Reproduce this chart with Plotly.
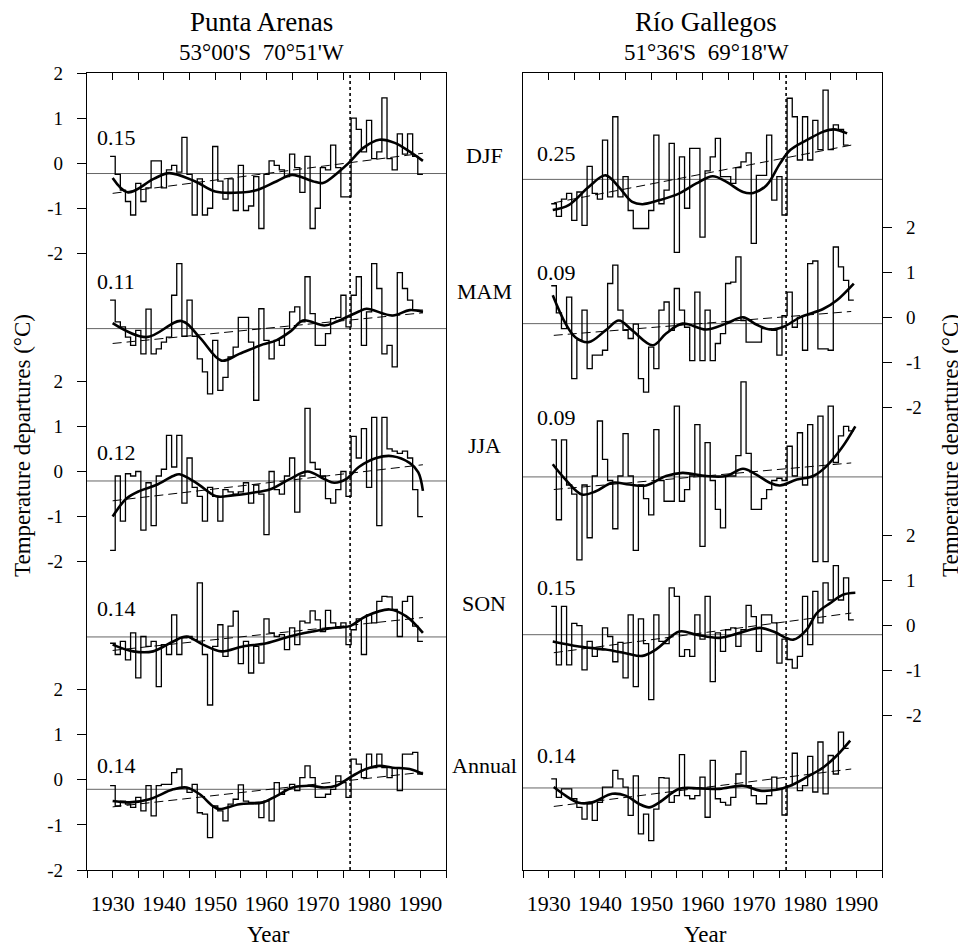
import plotly.graph_objects as go

W, H = 966, 947
PAGE_OFFSET = 8            # default body margin of the written html page
FONT = "Liberation Serif"
X_MIN, X_MAX = 1925, 1995
BLOCK_STEP = 3.42          # vertical separation between stacked seasons (deg C)
SHIFT_YEAR = 1976.3        # dotted vertical line
SEASONS = ["DJF", "MAM", "JJA", "SON", "Annual"]

# ---------------- Punta Arenas (53°00'S 70°51'W) ----------------
PA_START = 1930
pa_djf = [0.15, -0.25, -0.6, -0.85, -1.15, -0.45, -0.85, -0.55, 0.05, 0.05,
          -0.55, -0.15, -0.05, -0.2, 0.57, -0.25, -1.15, -0.35, -1.15, -1.0,
          0.37, -0.4, -0.8, -0.35, -1.05, -0.05, -1.05, -0.95, -0.3, -1.45,
          -0.25, 0.05, -0.05, -0.15, -0.3, 0.2, -0.1, -0.65, 0.15, -1.45,
          -1.0, -0.1, -0.15, 0.4, -0.1, -0.75, -0.75, 1.0, 0.75, 0.25,
          0.95, 0.1, 0.25, 1.45, 0.1, -0.15, 0.65, 0.2, 0.65, 0.15, -0.25]
pa_mam = [0.38, -0.1, -0.21, -0.44, -0.62, -0.29, -0.81, 0.18, -0.81, -0.7,
          -0.55, -0.44, 0.49, 1.19, -0.42, 0.38, -0.42, -0.92, -1.21, -1.7,
          -0.51, -1.62, -1.33, -0.88, -0.66, 0.0, 0.0, -0.55, -1.84, 0.19,
          -0.51, -0.92, -0.51, -0.62, -0.25, 0.12, 0.23, -0.1, 0.9, 0.08,
          -0.62, -0.62, -0.36, -0.03, 0.0, 0.49, -0.21, 0.49, 0.9, -0.62,
          0.12, 1.19, 0.64, -0.81, -0.62, -1.1, 0.99, 0.64, 0.38, 0.16, 0.16]
pa_jja = [-1.75, -0.1, -1.1, -0.05, -0.1, 0.0, -1.3, -0.25, -1.2, -0.1,
          0.05, 0.8, 0.1, 0.8, -0.7, 0.3, -0.35, -0.55, -1.1, -0.35,
          -0.55, -1.1, -0.4, -0.45, -0.5, -0.45, -0.25, -0.7, -0.3, -0.5,
          -1.4, 0.0, -0.4, -0.5, -0.1, 0.3, -0.9, -0.1, 1.4, 0.2,
          0.05, -0.1, -0.6, -0.7, -0.4, 0.0, -0.55, 0.78, 0.3, 0.95,
          -0.35, 1.2, -1.2, 1.2, 0.5, 0.45, 0.4, 0.45, 0.3, -0.4, -1.0]
pa_son = [-0.39, -0.64, -0.35, -0.76, -0.16, -1.16, -0.24, -0.46, -0.35, -1.35,
          -0.42, -0.64, 0.24, -0.64, -0.27, -0.24, -0.31, 0.95, -0.64, -1.76,
          -0.46, 0.02, -0.68, -0.01, 0.32, -0.84, -0.35, -1.05, -0.46, -0.83,
          0.15, -0.16, -0.24, -0.2, -0.53, -0.05, -0.42, 0.1, 0.06, 0.33,
          0.13, -0.13, 0.34, 0.06, -0.05, 0.06, -0.42, -0.09, 0.15, -0.64,
          0.24, 0.06, 0.54, 0.65, 0.64, 0.36, -0.24, 0.54, 0.65, -0.01, -0.35]
pa_ann = [-0.13, -0.58, -0.47, -0.54, -0.61, -0.39, -0.69, -0.13, -0.8, -0.13,
          -0.1, -0.1, 0.16, 0.24, -0.17, -0.28, -0.1, -0.73, -0.76, -1.28,
          -0.58, -0.69, -0.91, -0.54, -0.43, -0.11, -0.47, -0.5, -0.5, -0.84,
          -0.47, -0.91, -0.06, -0.32, -0.21, -0.1, -0.24, 0.05, 0.31, 0.05,
          -0.39, -0.39, -0.32, -0.21, 0.09, -0.06, -0.39, 0.46, 0.35, 0.05,
          0.57, 0.27, 0.57, 0.27, 0.05, 0.27, -0.24, 0.57, 0.57, 0.61, 0.13]

# smoothed curves (read at selected years)
pa_djf_sm_x = [1930, 1933, 1938, 1941, 1946, 1950, 1955, 1958, 1962, 1965, 1969, 1971, 1974, 1976, 1979, 1982, 1985, 1988, 1990.5]
pa_djf_sm_y = [-0.33, -0.65, -0.35, -0.22, -0.4, -0.63, -0.65, -0.6, -0.4, -0.26, -0.4, -0.44, -0.2, 0.0, 0.35, 0.52, 0.45, 0.25, 0.05]
pa_mam_sm_x = [1930, 1936.6, 1943.4, 1947, 1951.2, 1954.7, 1959.3, 1961.9, 1964.8, 1967.1, 1971.3, 1973.6, 1978, 1979.5, 1984.6, 1987.9, 1990.5]
pa_mam_sm_y = [-0.13, -0.44, -0.08, -0.45, -0.96, -0.81, -0.6, -0.51, -0.3, -0.07, -0.18, -0.1, 0.13, 0.19, 0.04, 0.16, 0.12]
pa_jja_sm_x = [1930, 1932.7, 1935.3, 1938.5, 1941.8, 1943, 1946.3, 1950.2, 1953.4, 1957.3, 1960.6, 1964.5, 1968, 1971.3, 1973.2, 1975.5, 1978, 1981.4, 1984.6, 1987.9, 1989.6, 1990.5]
pa_jja_sm_y = [-1.0, -0.6, -0.43, -0.3, -0.1, -0.06, -0.25, -0.55, -0.53, -0.47, -0.4, -0.17, 0.0, -0.17, -0.25, -0.17, 0.1, 0.3, 0.34, 0.19, -0.02, -0.43]
pa_son_sm_x = [1930, 1934, 1937.9, 1941.8, 1944.4, 1947.6, 1951.2, 1955.4, 1960, 1964.5, 1969, 1972.9, 1976.2, 1979.4, 1984, 1987.2, 1990.5]
pa_son_sm_y = [-0.42, -0.57, -0.57, -0.35, -0.24, -0.42, -0.57, -0.46, -0.39, -0.24, -0.13, -0.05, -0.01, 0.21, 0.36, 0.21, -0.16]
pa_ann_sm_x = [1930, 1933.3, 1937.2, 1941.8, 1944.4, 1947, 1949.5, 1950.8, 1954.7, 1959.3, 1961.9, 1965.1, 1968.4, 1971.3, 1973.6, 1976.8, 1979.4, 1982, 1984.6, 1987.9, 1990.5]
pa_ann_sm_y = [-0.47, -0.5, -0.43, -0.21, -0.17, -0.32, -0.58, -0.65, -0.54, -0.5, -0.36, -0.17, -0.13, -0.17, -0.13, 0.09, 0.24, 0.31, 0.27, 0.24, 0.13]

pa_trend_x = [1930, 1990.5]
pa_trend_start = [-0.67, -0.58, -0.65, -0.55, -0.6]
pa_trend_end = [0.22, 0.1, 0.15, 0.18, 0.17]
pa_base = [-0.23, -0.25, -0.21, -0.25, -0.21]
pa_rates = ["0.15", "0.11", "0.12", "0.14", "0.14"]

# ---------------- Río Gallegos (51°36'S 69°18'W) ----------------
RG_START = 1931
rg_djf = [-0.9, -1.18, -0.8, -0.67, -1.27, -0.64, -1.38, -0.07, -0.67, -0.8,
          0.51, -0.75, 1.03, -0.75, -0.3, -1.05, -1.45, -1.45, -1.45, -1.05,
          0.62, -0.9, -0.6, 0.44, -1.98, 0.14, -1.0, 0.33, 0.33, -1.64,
          -0.17, 0.14, 0.55, -0.3, -0.3, -0.45, -0.1, 0.03, 0.23, -1.78,
          -0.27, -0.27, 0.62, -0.82, -0.3, -1.15, 1.44, 1.03, 0.07, 1.03,
          0.07, 0.95, 0.3, 1.62, 0.3, 0.85, 0.75, 0.4]
rg_mam = [0.7, 0.1, -0.25, 0.45, -1.36, -0.5, 0.16, -1.14, -0.84, -0.84,
          -0.73, 0.75, 1.16, 0.16, -0.29, -0.47, -0.15, -1.36, -1.66, -0.66,
          -1.14, 0.16, 0.34, -0.29, 0.64, 0.16, -0.22, -0.96, 0.56, -0.96,
          0.16, -0.96, -0.58, -0.36, 0.75, 0.78, 1.34, -0.07, -0.55, -0.55,
          -0.55, -0.25, -0.25, -0.29, -0.84, 0.04, 0.56, -0.22, 0.0, -0.73,
          1.19, 1.25, -0.7, -0.7, -0.73, 1.56, 1.12, 0.82, 0.38]
rg_jja = [0.7, -1.07, 0.7, -0.3, -0.5, -1.96, -0.3, -1.47, -0.1, 1.12,
          0.27, -0.2, -1.27, -0.1, 0.84, -0.1, -1.75, -0.3, -0.6, -0.96,
          0.93, -0.2, -0.66, -0.66, 1.45, -0.66, -0.4, -0.1, 1.04, -1.66,
          0.64, -0.2, -0.84, -1.25, -0.1, -0.1, 0.35, 1.99, 0.4, -0.84,
          -0.84, -0.6, -0.4, -0.2, -0.15, -0.2, 0.56, -0.1, 0.86, -0.3,
          1.04, -2.0, 1.23, -2.0, 1.45, 0.2, 0.79, 1.0, 0.9]
rg_son = [0.43, -0.87, 0.43, -0.87, 0.05, 0.0, -0.98, -0.35, -0.68, -0.53,
          -0.05, -0.24, -0.8, -0.37, -1.16, 0.24, -1.35, 0.15, -0.4, -1.64,
          0.24, -0.35, -0.4, 0.84, 0.65, -0.68, -0.53, -0.68, 0.24, -0.3,
          0.65, -1.24, -0.16, -0.57, -0.09, -0.05, -0.46, -0.09, 0.45, 0.2,
          -0.57, 0.24, 0.24, 0.06, -0.83, -0.3, -0.75, -0.94, -0.68, 0.65,
          -0.42, 0.76, 0.06, 0.95, 0.57, 1.33, 0.57, 1.06, 0.13]
rg_ann = [0.02, -0.39, -0.2, -0.2, -0.42, -0.61, -0.87, -0.53, -0.9, -0.5,
          -0.16, -0.16, 0.21, 0.02, -0.16, -0.79, 0.09, -1.2, -0.76, -1.35,
          -0.65, 0.05, 0.04, -0.5, -0.35, 0.56, -0.35, -0.42, -0.35, 0.06,
          -0.83, 0.43, -0.42, -0.5, -0.56, -0.39, 0.13, 0.63, -0.13, -0.35,
          -0.53, -0.53, -0.35, 0.06, -0.2, -0.78, -0.13, 0.59, -0.24, -0.13,
          0.52, -0.27, 0.84, -0.31, 0.54, 0.13, 1.06, 0.7]

rg_djf_sm_x = [1930.8, 1933.9, 1937.8, 1941.1, 1943.7, 1946.3, 1948.3, 1951.6, 1955.5, 1958.8, 1962, 1964.6, 1967.9, 1969.9, 1972.5, 1975.1, 1977.1, 1980.3, 1983.6, 1985.6, 1988.2]
rg_djf_sm_y = [-1.04, -0.93, -0.53, -0.27, -0.53, -0.86, -0.91, -0.82, -0.67, -0.45, -0.29, -0.41, -0.64, -0.66, -0.49, -0.01, 0.29, 0.51, 0.7, 0.75, 0.66]
rg_mam_sm_x = [1930.8, 1933.3, 1935.2, 1937.8, 1941.1, 1943.7, 1946.3, 1950.3, 1952.9, 1956.1, 1960.7, 1964.6, 1967.9, 1970.5, 1973.1, 1975.8, 1979, 1983.6, 1986.2, 1989.5]
rg_mam_sm_y = [0.49, -0.14, -0.44, -0.55, -0.29, -0.07, -0.29, -0.62, -0.36, -0.14, -0.27, -0.14, 0.0, -0.16, -0.27, -0.21, 0.0, 0.19, 0.38, 0.75]
rg_jja_sm_x = [1930.8, 1933.3, 1936.5, 1939.2, 1942.4, 1945.7, 1949, 1952.9, 1956.1, 1960.7, 1964.6, 1967.9, 1970.5, 1973.1, 1975.1, 1978.4, 1981.6, 1984.2, 1987.2, 1989.8]
rg_jja_sm_y = [0.16, -0.18, -0.51, -0.44, -0.25, -0.29, -0.31, -0.1, -0.03, -0.1, -0.1, 0.06, -0.07, -0.25, -0.31, -0.18, -0.1, 0.12, 0.53, 1.0]
rg_son_sm_x = [1930.8, 1935.9, 1941.1, 1945, 1948.3, 1950.9, 1955.5, 1958.8, 1963.3, 1967.3, 1971.2, 1973.8, 1977.7, 1980.3, 1982.3, 1984.9, 1987.5, 1989.8]
rg_son_sm_y = [-0.35, -0.46, -0.53, -0.61, -0.67, -0.53, -0.13, -0.2, -0.27, -0.16, -0.05, -0.13, -0.31, -0.09, 0.28, 0.5, 0.69, 0.73]
rg_ann_sm_x = [1931, 1933.3, 1935.9, 1938.5, 1942.4, 1945, 1947.6, 1949.6, 1951.6, 1955.5, 1959.4, 1963.3, 1967.9, 1971.2, 1974.4, 1977.1, 1980.3, 1983.6, 1986.2, 1988.8]
rg_ann_sm_y = [-0.16, -0.35, -0.51, -0.5, -0.31, -0.35, -0.53, -0.61, -0.5, -0.2, -0.19, -0.2, -0.13, -0.24, -0.22, -0.13, 0.06, 0.28, 0.54, 0.87]

rg_trend_x = [1931, 1989]
rg_trend_start = [-0.88, -0.4, -0.4, -0.6, -0.59]
rg_trend_end = [0.4, 0.13, 0.19, 0.28, 0.24]
rg_base = [-0.36, -0.14, -0.12, -0.2, -0.18]
rg_rates = ["0.25", "0.09", "0.09", "0.15", "0.14"]

TICK_VALUES = [2, 1, 0, -1, -2]
LEFT_LABELLED = [0, 2, 4]     # blocks labelled on the left axis
RIGHT_LABELLED = [1, 3]       # blocks labelled on the right axis

# ---------------- figure ----------------
fig = go.Figure()


def offset(k):
    return -k * BLOCK_STEP


def add_station(xa, ya, start, series, smooth_x, smooth_y, trend_x, t0, t1, base):
    for k, vals in enumerate(series):
        off = offset(k)
        years = [start + i for i in range(len(vals))]
        xs = [y - 0.5 for y in years] + [years[-1] + 0.5]
        ys = [v + off for v in vals] + [vals[-1] + off]
        # reference (base-period mean) line
        fig.add_trace(go.Scatter(x=[X_MIN, X_MAX], y=[base[k] + off] * 2, mode="lines",
                                 line=dict(color="#555555", width=0.9),
                                 xaxis=xa, yaxis=ya, hoverinfo="skip"))
        # annual step series
        fig.add_trace(go.Scatter(x=xs, y=ys, mode="lines",
                                 line=dict(color="black", width=1.3, shape="hv"),
                                 xaxis=xa, yaxis=ya))
        # linear trend
        fig.add_trace(go.Scatter(x=trend_x, y=[t0[k] + off, t1[k] + off], mode="lines",
                                 line=dict(color="black", width=1.0, dash="9px,5px"),
                                 xaxis=xa, yaxis=ya))
        # smoothed curve
        fig.add_trace(go.Scatter(x=smooth_x[k], y=[v + off for v in smooth_y[k]], mode="lines",
                                 line=dict(color="black", width=2.6, shape="spline", smoothing=1.0),
                                 xaxis=xa, yaxis=ya))


add_station("x", "y", PA_START, [pa_djf, pa_mam, pa_jja, pa_son, pa_ann],
            [pa_djf_sm_x, pa_mam_sm_x, pa_jja_sm_x, pa_son_sm_x, pa_ann_sm_x],
            [pa_djf_sm_y, pa_mam_sm_y, pa_jja_sm_y, pa_son_sm_y, pa_ann_sm_y],
            pa_trend_x, pa_trend_start, pa_trend_end, pa_base)
add_station("x2", "y2", RG_START, [rg_djf, rg_mam, rg_jja, rg_son, rg_ann],
            [rg_djf_sm_x, rg_mam_sm_x, rg_jja_sm_x, rg_son_sm_x, rg_ann_sm_x],
            [rg_djf_sm_y, rg_mam_sm_y, rg_jja_sm_y, rg_son_sm_y, rg_ann_sm_y],
            rg_trend_x, rg_trend_start, rg_trend_end, rg_base)

# empty traces so the top (inside-tick) overlay axes are drawn
fig.add_trace(go.Scatter(x=[], y=[], xaxis="x3", yaxis="y"))
fig.add_trace(go.Scatter(x=[], y=[], xaxis="x4", yaxis="y2"))

y_top = max(TICK_VALUES)
y_bottom = offset(len(SEASONS) - 1) + min(TICK_VALUES)

x_tickvals = list(range(X_MIN, X_MAX + 1, 5))
x_ticktext = [str(v) if v % 10 == 0 and 1930 <= v <= 1990 else "" for v in x_tickvals]

left_tv, left_tt, right_tv, right_tt = [], [], [], []
for k in LEFT_LABELLED:
    for t in TICK_VALUES:
        left_tv.append(t + offset(k))
        left_tt.append(str(t))
for k in RIGHT_LABELLED:
    for t in TICK_VALUES:
        right_tv.append(t + offset(k))
        right_tt.append(str(t))


def px(x):
    return (x - PAGE_OFFSET) / W


def py(y):
    return 1 - (y - PAGE_OFFSET) / H


dom_left = [px(87), px(446)]
dom_right = [px(523), px(882)]
dom_y = [py(870), py(73)]

xcommon = dict(range=[X_MIN, X_MAX], tickvals=x_tickvals, ticktext=x_ticktext,
               ticks="outside", ticklen=7, tickwidth=1, tickcolor="black",
               showline=True, linecolor="black", linewidth=1.2, mirror=True,
               showgrid=False, zeroline=False, automargin=False,
               tickfont=dict(family=FONT, size=22, color="black"), ticklabelstandoff=6)
xtop = dict(range=[X_MIN, X_MAX], tickvals=x_tickvals, side="top",
            ticks="inside", ticklen=7, tickwidth=1, tickcolor="black", automargin=False,
            showticklabels=False, showline=False, showgrid=False, zeroline=False)
ycommon = dict(range=[y_bottom, y_top], domain=dom_y,
               ticks="outside", ticklen=9, tickwidth=1, tickcolor="black",
               showline=True, linecolor="black", linewidth=1.2, mirror=True,
               showgrid=False, zeroline=False, automargin=False,
               tickfont=dict(family=FONT, size=19, color="black"), ticklabelstandoff=10)

fig.update_layout(
    width=W, height=H,
    margin=dict(l=0, r=0, t=0, b=0, autoexpand=False),
    paper_bgcolor="white", plot_bgcolor="white",
    showlegend=False,
    xaxis=dict(domain=dom_left, anchor="y", **xcommon),
    xaxis2=dict(domain=dom_right, anchor="y2", **xcommon),
    xaxis3=dict(overlaying="x", anchor="y", **xtop),
    xaxis4=dict(overlaying="x2", anchor="y2", **xtop),
    yaxis=dict(anchor="x", tickvals=left_tv, ticktext=left_tt, **ycommon),
    yaxis2=dict(anchor="x2", side="right", tickvals=right_tv, ticktext=right_tt, **ycommon),
)

# dotted vertical line marking the 1976 shift
for xr, yr in (("x", "y domain"), ("x2", "y2 domain")):
    fig.add_shape(type="line", xref=xr, yref=yr, x0=SHIFT_YEAR, x1=SHIFT_YEAR, y0=0, y1=1,
                  line=dict(color="black", width=1.6, dash="dot"))


def note(text, x, y, size, angle=0):
    fig.add_annotation(text=text, x=px(x), y=py(y), xref="paper", yref="paper",
                       showarrow=False, textangle=angle, xanchor="center", yanchor="middle",
                       font=dict(family=FONT, size=size, color="black"))


note("Punta Arenas", 261, 22, 27)
note("53°00'S\u00a0\u00a070°51'W", 261, 52, 23)
note("Río Gallegos", 706, 22, 27)
note("51°36'S\u00a0\u00a069°18'W", 706, 52, 23)

pa_rate_y = [138, 282, 452, 608, 765]
rg_rate_y = [153, 272, 417, 587, 755]
season_y = [155, 292, 445, 603, 765]
for k in range(len(SEASONS)):
    note(pa_rates[k], 116, pa_rate_y[k], 22)
    note(rg_rates[k], 556, rg_rate_y[k], 22)
    note(SEASONS[k], 484, season_y[k], 22)

note("Temperature departures (°C)", 22, 446, 23, angle=-90)
note("Temperature departures (°C)", 950, 446, 23, angle=-90)
note("Year", 268, 934, 23)
note("Year", 705, 934, 23)

fig.write_html("out.html")
